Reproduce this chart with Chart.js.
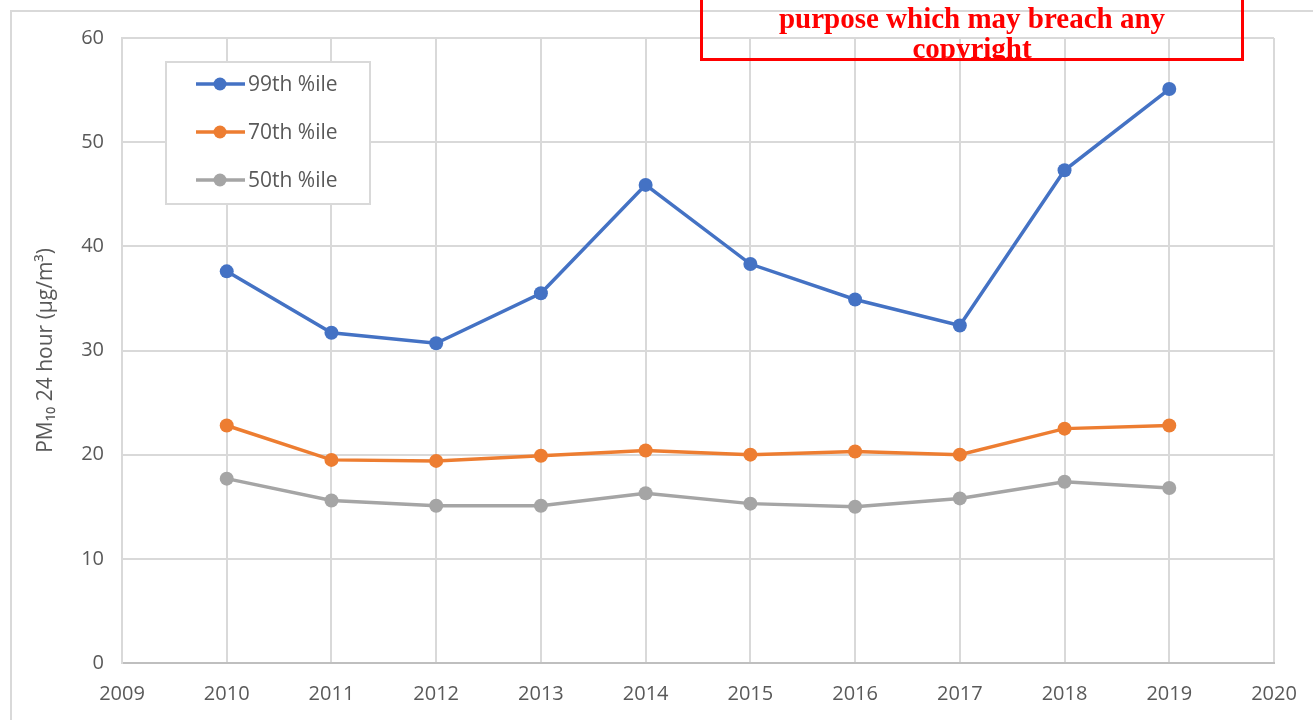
<!DOCTYPE html>
<html>
<head>
<meta charset="utf-8">
<script src="https://cdn.jsdelivr.net/npm/chart.js@4/dist/chart.umd.min.js"></script>
<style>
  html, body { margin: 0; padding: 0; background: #fff; overflow: hidden; }
  #wrap { position: relative; width: 1313px; height: 720px; }
  #frame { position: absolute; left: 10px; top: 10px; width: 1400px; height: 800px; border: 2px solid #D9D9D9; box-sizing: border-box; }
  canvas { position: absolute; left: 0; top: 0; }
  #note { position: absolute; left: 700px; top: -40px; width: 544px; height: 101px; border: 3px solid #FF0000; box-sizing: border-box; overflow: hidden;
          font-family: "Liberation Serif", "Times New Roman", serif; font-weight: bold; font-size: 29px; color: #FF0000; text-align: center; line-height: 30px; padding-top: 40px; background: transparent; }
</style>
</head>
<body>
<div id="wrap">
  <div id="frame"></div>
  <canvas id="c" width="1313" height="720"></canvas>
  <div id="note">purpose which may breach any<br>copyright</div>
</div>
<script>
const years = [2010, 2011, 2012, 2013, 2014, 2015, 2016, 2017, 2018, 2019];
const p99 = [37.6, 31.7, 30.7, 35.5, 45.9, 38.3, 34.9, 32.4, 47.3, 55.1];
const p70 = [22.8, 19.5, 19.4, 19.9, 20.4, 20.0, 20.3, 20.0, 22.5, 22.8];
const p50 = [17.7, 15.6, 15.1, 15.1, 16.3, 15.3, 15.0, 15.8, 17.4, 16.8];
const seriesNames = ['99th %ile', '70th %ile', '50th %ile'];
const seriesColors = ['#4472C4', '#ED7D31', '#A5A5A5'];
const yTicks = [0, 10, 20, 30, 40, 50, 60];
const xMin = 2009, xMax = 2020;

function toPts(vals) { return years.map((y, i) => ({ x: y, y: vals[i] })); }
const allVals = [p99, p70, p50];

const FONT = '"Open Sans", "Liberation Sans", sans-serif';
const TXT = '#595959';

const legendPlugin = {
  id: 'boxLegend',
  afterDatasetsDraw(chart) {
    const ctx = chart.ctx;
    const bx = 166, by = 62, bw = 204, bh = 142;
    ctx.save();
    ctx.fillStyle = '#fff';
    ctx.fillRect(bx, by, bw, bh);
    ctx.strokeStyle = '#D9D9D9';
    ctx.lineWidth = 2;
    ctx.strokeRect(bx, by, bw, bh);
    chart.data.datasets.forEach((ds, i) => {
      const cy = 84 + i * 48;
      ctx.strokeStyle = ds.borderColor;
      ctx.lineWidth = 3.5;
      ctx.beginPath(); ctx.moveTo(196, cy); ctx.lineTo(245, cy); ctx.stroke();
      ctx.fillStyle = ds.borderColor;
      ctx.beginPath(); ctx.arc(220, cy, 6.5, 0, Math.PI * 2); ctx.fill();
      ctx.fillStyle = TXT;
      ctx.font = '21px ' + FONT;
      ctx.textBaseline = 'middle';
      ctx.textAlign = 'left';
      ctx.fillText(ds.label, 248, cy + 1);
    });
    ctx.restore();
  }
};

new Chart(document.getElementById('c'), {
  type: 'line',
  data: {
    datasets: allVals.map((v, i) => ({
      label: seriesNames[i],
      data: toPts(v),
      borderColor: seriesColors[i],
      backgroundColor: seriesColors[i],
      borderWidth: 3.5,
      pointRadius: 7,
      pointHoverRadius: 7,
      pointBackgroundColor: seriesColors[i],
      pointBorderWidth: 0,
      tension: 0
    }))
  },
  options: {
    responsive: false,
    animation: false,
    events: [],
    layout: { padding: { left: 33, top: 38, right: 39, bottom: 0 } },
    plugins: { legend: { display: false }, tooltip: { enabled: false } },
    scales: {
      x: {
        type: 'linear', min: xMin, max: xMax,
        ticks: { stepSize: 1, callback: v => String(v), color: TXT, font: { family: FONT, size: 20 }, padding: 19, maxRotation: 0 },
        grid: { color: '#D9D9D9', lineWidth: 2, drawTicks: false },
        border: { color: '#BFBFBF', width: 2 },
        afterFit: s => { s.height = 57; s.paddingLeft = 0; s.paddingRight = 0; }
      },
      y: {
        min: 0, max: 60,
        afterBuildTicks: s => { s.ticks = yTicks.map(v => ({ value: v })); },
        ticks: { color: TXT, font: { family: FONT, size: 20 }, padding: 18 },
        grid: { color: '#D9D9D9', lineWidth: 2, drawTicks: false },
        border: { color: '#D9D9D9', width: 2 },
        title: { display: true, text: 'PM₁₀ 24 hour (µg/m³)', color: TXT, font: { family: FONT, size: 21 }, padding: 0 },
        afterFit: s => { s.width = 122 - 33; s.paddingTop = 0; s.paddingBottom = 0; }
      }
    }
  },
  plugins: [legendPlugin]
});
</script>
</body>
</html>
